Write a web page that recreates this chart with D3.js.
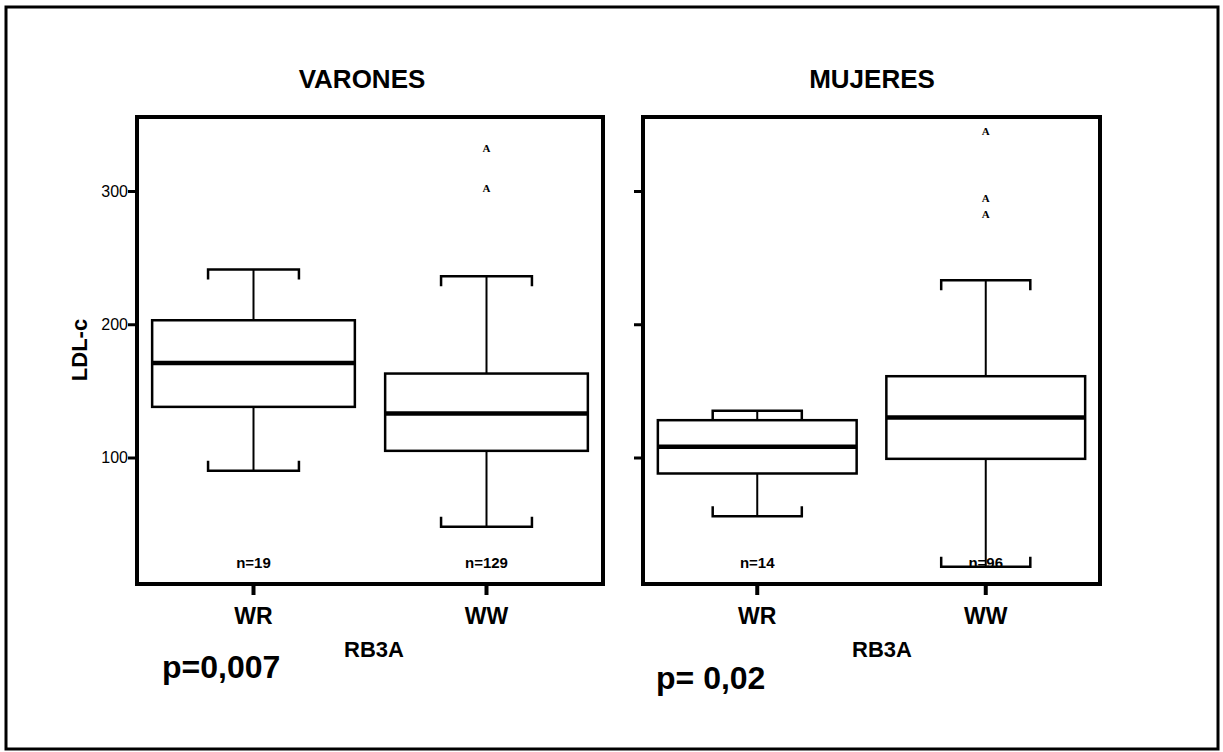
<!DOCTYPE html>
<html>
<head>
<meta charset="utf-8">
<script src="https://cdn.jsdelivr.net/npm/d3@7"></script>
<style>
  html, body { margin: 0; padding: 0; background: #fff; }
  svg { display: block; font-family: "Liberation Sans", Arial, Helvetica, sans-serif; }
</style>
</head>
<body>
<svg id="chart" width="1223" height="752"></svg>
<script>
// Genotype groups on the x axis
const categories = ["WR", "WW"];
const yTicks = [100, 200, 300];

// LDL-c box-plot statistics, men
const varonesLow    = [90, 48];
const varonesQ1     = [138, 105];
const varonesMedian = [171, 133];
const varonesQ3     = [203, 163];
const varonesHigh   = [241, 236];
const varonesOutliers = [[], [332, 302]];
const varonesN      = [19, 129];

// LDL-c box-plot statistics, women
const mujeresLow    = [56, 18];
const mujeresQ1     = [88, 99];
const mujeresMedian = [108, 130];
const mujeresQ3     = [128, 161];
const mujeresHigh   = [135, 233];
const mujeresOutliers = [[], [345, 295, 283]];
const mujeresN      = [14, 96];

const panelTitles = ["VARONES", "MUJERES"];
const pValues = ["p=0,007", "p= 0,02"];
const xTitle = "RB3A";
const yTitle = "LDL-c";

const svg = d3.select("#chart");

// outer frame around the whole figure
svg.append("rect")
  .attr("x", 6).attr("y", 7).attr("width", 1212).attr("height", 742)
  .attr("fill", "none").attr("stroke", "#000").attr("stroke-width", 3);

const frameTop = 117, frameBottom = 584;
const y = d3.scaleLinear().domain([100, 300]).range([457.5, 191]);

function toRows(low, q1, med, q3, high, outl, n) {
  return categories.map((c, i) => ({
    cat: c, low: low[i], q1: q1[i], med: med[i], q3: q3[i], high: high[i],
    outliers: outl[i], n: n[i]
  }));
}

const panels = [
  { title: panelTitles[0], left: 137, right: 603, titleX: 362, showLabels: true,
    rows: toRows(varonesLow, varonesQ1, varonesMedian, varonesQ3, varonesHigh, varonesOutliers, varonesN),
    p: pValues[0], pX: 162, pY: 678, xTitleX: 374 },
  { title: panelTitles[1], left: 643, right: 1100, titleX: 872, showLabels: false,
    rows: toRows(mujeresLow, mujeresQ1, mujeresMedian, mujeresQ3, mujeresHigh, mujeresOutliers, mujeresN),
    p: pValues[1], pX: 656, pY: 689, xTitleX: 882 }
];

panels.forEach(pn => {
  const g = svg.append("g");
  const x = d3.scaleBand().domain(categories).range([pn.left, pn.right]).padding(0);
  const bw = x.bandwidth();
  const boxW = bw * 0.87;
  const capW = bw * 0.39;
  const capTick = 10;

  // y axis ticks (labels only on the first panel)
  const yAxis = d3.axisLeft(y).tickValues(yTicks).tickSize(9).tickPadding(0)
    .tickFormat(pn.showLabels ? d3.format("d") : () => "");
  const ya = g.append("g").attr("transform", `translate(${pn.left},0)`).call(yAxis);
  ya.select(".domain").remove();
  ya.selectAll(".tick line").attr("stroke", "#000").attr("stroke-width", 3);
  ya.selectAll(".tick text").attr("font-size", 16).attr("fill", "#000")
    .attr("font-family", "'Liberation Sans', Arial, sans-serif");

  // x axis ticks and group labels
  const xAxis = d3.axisBottom(x).tickSize(11).tickPadding(13);
  const xa = g.append("g").attr("transform", `translate(0,${frameBottom})`).call(xAxis);
  xa.select(".domain").remove();
  xa.selectAll(".tick line").attr("stroke", "#000").attr("stroke-width", 4);
  xa.selectAll(".tick text").attr("font-size", 23).attr("font-weight", "bold").attr("fill", "#000")
    .attr("font-family", "'Liberation Sans', Arial, sans-serif").attr("dy", "0.71em");

  // panel frame
  g.append("rect")
    .attr("x", pn.left).attr("y", frameTop)
    .attr("width", pn.right - pn.left).attr("height", frameBottom - frameTop)
    .attr("fill", "none").attr("stroke", "#000").attr("stroke-width", 4);

  const bx = g.selectAll("g.box").data(pn.rows).enter().append("g").attr("class", "box");
  const cx = d => x(d.cat) + bw / 2;

  // whisker stems
  bx.append("line").attr("x1", cx).attr("x2", cx)
    .attr("y1", d => y(d.q3)).attr("y2", d => y(d.high))
    .attr("stroke", "#000").attr("stroke-width", 2);
  bx.append("line").attr("x1", cx).attr("x2", cx)
    .attr("y1", d => y(d.q1)).attr("y2", d => y(d.low))
    .attr("stroke", "#000").attr("stroke-width", 2);

  // whisker caps with short inward ticks
  bx.append("path")
    .attr("d", d => {
      const c = cx(d), h = y(d.high);
      return `M${c - capW / 2},${h + capTick}V${h}H${c + capW / 2}V${h + capTick}`;
    })
    .attr("fill", "none").attr("stroke", "#000").attr("stroke-width", 2.5);
  bx.append("path")
    .attr("d", d => {
      const c = cx(d), l = y(d.low);
      return `M${c - capW / 2},${l - capTick}V${l}H${c + capW / 2}V${l - capTick}`;
    })
    .attr("fill", "none").attr("stroke", "#000").attr("stroke-width", 2.5);

  // interquartile box
  bx.append("rect")
    .attr("x", d => cx(d) - boxW / 2).attr("width", boxW)
    .attr("y", d => y(d.q3)).attr("height", d => y(d.q1) - y(d.q3))
    .attr("fill", "#fff").attr("stroke", "#000").attr("stroke-width", 2.5);

  // median
  bx.append("line")
    .attr("x1", d => cx(d) - boxW / 2).attr("x2", d => cx(d) + boxW / 2)
    .attr("y1", d => y(d.med)).attr("y2", d => y(d.med))
    .attr("stroke", "#000").attr("stroke-width", 4.5);

  // outliers marked with "A"
  bx.selectAll("text.out").data(d => d.outliers.map(v => ({ v, c: cx(d) }))).enter()
    .append("text").attr("class", "out")
    .attr("x", d => d.c).attr("y", d => y(d.v)).attr("dy", "0.35em")
    .attr("text-anchor", "middle")
    .attr("font-family", "'Liberation Serif', 'DejaVu Serif', serif")
    .attr("font-weight", "bold").attr("font-size", 11)
    .text("A");

  // sample sizes
  bx.append("text")
    .attr("x", cx).attr("y", 568).attr("text-anchor", "middle")
    .attr("font-size", 15).attr("font-weight", "bold")
    .text(d => `n=${d.n}`);

  // panel title
  g.append("text").attr("x", pn.titleX).attr("y", 88).attr("text-anchor", "middle")
    .attr("font-size", 26).attr("font-weight", "bold").text(pn.title);

  // x axis title
  g.append("text").attr("x", pn.xTitleX).attr("y", 657).attr("text-anchor", "middle")
    .attr("font-size", 22).attr("font-weight", "bold").text(xTitle);

  // p value
  g.append("text").attr("x", pn.pX).attr("y", pn.pY)
    .attr("font-size", 32).attr("font-weight", "bold").text(pn.p);
});

// y axis title
svg.append("text")
  .attr("transform", "translate(87,350) rotate(-90)")
  .attr("text-anchor", "middle")
  .attr("font-size", 22).attr("font-weight", "bold")
  .text(yTitle);
</script>
</body>
</html>
